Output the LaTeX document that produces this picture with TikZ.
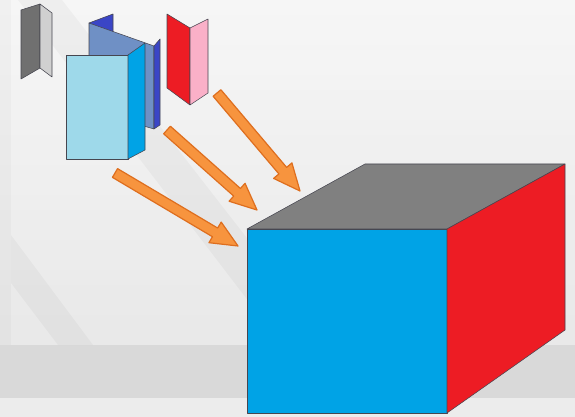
\documentclass[tikz,border=0pt]{standalone}
\usetikzlibrary{calc}

\definecolor{bgtop}{RGB}{246,246,246}
\definecolor{bglow}{RGB}{232,232,232}
\definecolor{bgband}{RGB}{217,217,217}
\definecolor{bgfoot}{RGB}{236,236,236}
\definecolor{cubegray}{RGB}{128,128,128}
\definecolor{cubeblue}{RGB}{0,163,230}
\definecolor{cubered}{RGB}{237,28,36}
\definecolor{lightblue}{RGB}{158,217,234}
\definecolor{steelblue}{RGB}{111,144,197}
\definecolor{deepblue}{RGB}{58,69,198}
\definecolor{darkpanel}{RGB}{112,112,112}
\definecolor{lightpanel}{RGB}{208,208,208}
\definecolor{pinkpanel}{RGB}{250,176,200}
\definecolor{flowfill}{RGB}{247,148,62}
\definecolor{flowedge}{RGB}{222,110,30}

\tikzset{every picture/.style={line width=0.75pt}}
\tikzset{
  face/.style={draw={rgb,255:red,70;green,70;blue,80}, line width=0.4pt, line join=round},
  flow/.style={fill=flowfill, draw=flowedge, line width=0.9pt, line join=round},
}

% block arrow from tail #1 to tip #2
\newcommand{\flowarrow}[2]{%
  \coordinate (#1h) at ($(#2)!20pt!(#1)$);
  \filldraw[flow] ($(#1)!3.8pt!90:(#2)$) -- ($(#1h)!3.8pt!90:(#2)$) -- ($(#1h)!9pt!90:(#2)$)
    -- (#2) -- ($(#1h)!9pt!-90:(#2)$) -- ($(#1h)!3.8pt!-90:(#2)$) -- ($(#1)!3.8pt!-90:(#2)$) -- cycle;
}

\begin{document}
\begin{tikzpicture}[x=0.75pt,y=0.75pt,yscale=-1,xscale=1]
	\useasboundingbox (0,0) rectangle (575,417);

	%Background
	\foreach \i in {0,...,23}{
		\pgfmathsetmacro{\p}{100-\i*100/23}
		\fill[bgtop!\p!bglow] (0,{\i*15}) rectangle (575,{\i*15+15.5});
	}
	\fill[bgband] (0,345) rectangle (575,398);
	\fill[bgfoot] (0,398) rectangle (575,417);
	\fill[black, opacity=0.025] (0,0) rectangle (11,345);
	\fill[black, opacity=0.03] (18,0) -- (62,0) -- (330,345) -- (282,345) -- cycle;
	\fill[black, opacity=0.03] (11,235) -- (93,345) -- (58,345) -- (11,283) -- cycle;

	%Gray folded piece
	\draw[face, fill=darkpanel] (21,10) -- (40,4) -- (40,68) -- (21,79) -- cycle;
	\draw[face, fill=lightpanel] (40,4) -- (52,13) -- (52,77) -- (40,68) -- cycle;

	%Blue folded piece
	\draw[face, fill=deepblue] (89,23) -- (113,14) -- (113,40) -- cycle;
	\draw[face, fill=steelblue] (89,23) -- (154,46) -- (154,129) -- (89,110) -- cycle;
	\draw[face, fill=deepblue] (154,46) -- (160,39) -- (160,125) -- (154,129) -- cycle;
	\draw[face, fill=lightblue] (66,55) rectangle (128,159);
	\draw[face, fill=cubeblue] (128,55) -- (145,43) -- (145,150) -- (128,159) -- cycle;

	%Red folded piece
	\draw[face, fill=cubered] (167,14) -- (190,28) -- (190,105) -- (167,88) -- cycle;
	\draw[face, fill=pinkpanel] (190,28) -- (208,19) -- (208,93) -- (190,105) -- cycle;

	%Cube
	\coordinate (ftl) at (247,229);
	\coordinate (ftr) at (447,229);
	\coordinate (fbr) at (447,413);
	\coordinate (fbl) at (247,413);
	\coordinate (btl) at (365,164);
	\coordinate (btr) at (565,164);
	\coordinate (bbr) at (565,330);
	\draw[face, fill=cubegray] (ftl) -- (btl) -- (btr) -- (ftr) -- cycle;
	\draw[face, fill=cubeblue] (ftl) -- (ftr) -- (fbr) -- (fbl) -- cycle;
	\draw[face, fill=cubered] (ftr) -- (btr) -- (bbr) -- (fbr) -- cycle;

	%Arrows
	\coordinate (ta) at (115,173);
	\coordinate (pa) at (238,246);
	\coordinate (tb) at (167,130);
	\coordinate (pb) at (257,210);
	\coordinate (tc) at (217,93);
	\coordinate (pc) at (300,191);
	\flowarrow{ta}{pa}
	\flowarrow{tb}{pb}
	\flowarrow{tc}{pc}

\end{tikzpicture}
\end{document}
